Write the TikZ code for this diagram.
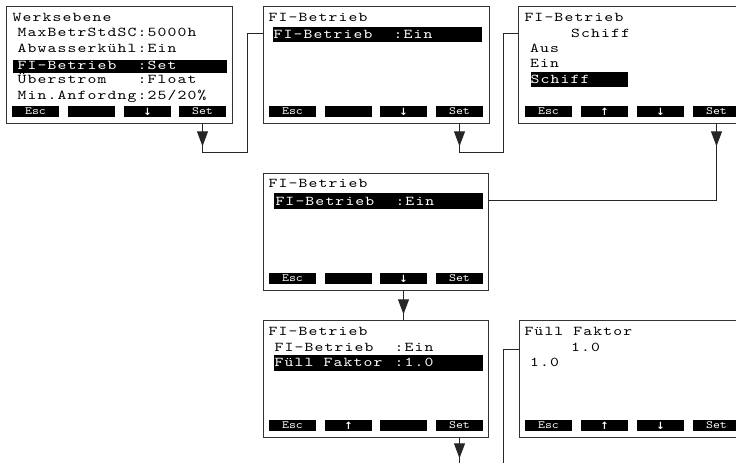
\documentclass[tikz,border=0pt]{standalone}
\usepackage{fontspec}
\usetikzlibrary{arrows.meta,decorations.markings,calc}
\newfontfamily\symfam{DejaVu Sans}
\newfontfamily\lcdfam{lmmono10-regular}[Extension=.otf, FakeStretch=1.25, LetterSpace=8.45]
\newfontfamily\btnfam{lmmono10-regular}[Extension=.otf, FakeStretch=1.2]
\newcommand\lcdtxt{\lcdfam\fontsize{13.5pt}{15pt}\selectfont}
\newcommand\btntxt{\btnfam\fontsize{11pt}{12pt}\selectfont}
\newcommand\symtxt{\symfam\bfseries\fontsize{10pt}{10pt}\selectfont}
\tikzset{
  screen/.style={draw=black!80, line width=1.3pt, anchor=north west, minimum width=226pt, minimum height=117pt, inner sep=0pt},
  btn/.style={fill=black, text=white, minimum width=47pt, minimum height=11pt, inner sep=0pt, font=\btntxt},
  arrbtn/.style={btn, font=\symtxt},
  txt/.style={anchor=base west, inner sep=0pt, font=\lcdtxt},
  inv/.style={txt, text=white},
  hl/.style={fill=black},
  conn/.style={draw=black!85, line width=1pt},
  flowarrow/.style={postaction={decorate}, decoration={markings, mark=at position #1 with {\arrow{Triangle[length=15pt,width=11pt]}}}}
}
\begin{document}
\begin{tikzpicture}[x=1pt,y=-1pt]
\useasboundingbox (0,0) rectangle (736,463);
\clip (0,0) rectangle (736,463);

% ---------- Screen 1 ----------
\node[screen] (s1) at (6,6) {};
\fill[hl] (12.5,60) rectangle (227,73);
\node[txt] (s1t0) at (12.5,21) {Werksebene};
\node[txt] (s1t1) at (17.5,36.7) {MaxBetrStdSC};
\node[txt] (s1v1) at (137.5,36.7) {:5000h};
\node[txt] (s1t2) at (17.5,52.5) {Abwasserkühl};
\node[txt] (s1v2) at (137.5,52.5) {:Ein};
\node[inv] (s1t3) at (17.5,69) {FI-Betrieb};
\node[inv] (s1v3) at (137.5,69) {:Set};
\node[txt] (s1t4) at (17.5,83.8) {Überstrom};
\node[txt] (s1v4) at (137.5,83.8) {:Float};
\node[txt] (s1t5) at (17.5,99.5) {Min.Anfordng};
\node[txt] (s1v5) at (137.5,99.5) {:25/20\%};
\node[btn] (s1esc) at (35.5,111.5) {Esc};
\node[btn] (s1b2) at (91.5,111.5) {};
\node[arrbtn] (s1down) at (147.5,111.5) {↓};
\node[btn] (s1set) at (202.5,111.5) {Set};

% ---------- Screen 2 ----------
\node[screen] (s2) at (263,6) {};
\fill[hl] (273,27) rectangle (482,42);
\node[txt] (s2t0) at (268.5,21) {FI-Betrieb};
\node[inv] (s2t1) at (273.5,38) {FI-Betrieb};
\node[inv] (s2v1) at (393.5,38) {:Ein};
\node[btn] (s2esc) at (292.5,111.5) {Esc};
\node[btn] (s2b2) at (348.5,111.5) {};
\node[arrbtn] (s2down) at (403.5,111.5) {↓};
\node[btn] (s2set) at (459.5,111.5) {Set};

% ---------- Screen 3 ----------
\node[screen, minimum width=227pt] (s3) at (518,6) {};
\fill[hl] (530.5,72) rectangle (628,87);
\node[txt] (s3t0) at (524.3,21) {FI-Betrieb};
\node[txt] (s3t1) at (571,37.5) {Schiff};
\node[txt] (s3t2) at (530,52.7) {Aus};
\node[txt] (s3t3) at (530,67.7) {Ein};
\node[inv] (s3t4) at (530.5,83.5) {Schiff};
\node[btn] (s3esc) at (548.5,111.5) {Esc};
\node[arrbtn] (s3up) at (604.5,111.5) {↑};
\node[arrbtn] (s3down) at (660.5,111.5) {↓};
\node[btn] (s3set) at (716.5,111.5) {Set};

% ---------- Screen 4 ----------
\node[screen, minimum width=225pt] (s4) at (263,173) {};
\fill[hl] (274,193) rectangle (483,209);
\node[txt] (s4t0) at (268.5,187) {FI-Betrieb};
\node[inv] (s4t1) at (275.3,205) {FI-Betrieb};
\node[inv] (s4v1) at (395.3,205) {:Ein};
\node[btn] (s4esc) at (292.5,278.5) {Esc};
\node[btn] (s4b2) at (348.5,278.5) {};
\node[arrbtn] (s4down) at (403.5,278.5) {↓};
\node[btn] (s4set) at (459.5,278.5) {Set};

% ---------- Screen 5 ----------
\node[screen, minimum width=225pt] (s5) at (263,320) {};
\fill[hl] (274,355) rectangle (483,371);
\node[txt] (s5t0) at (268.5,335) {FI-Betrieb};
\node[txt] (s5t1) at (274.5,351.5) {FI-Betrieb};
\node[txt] (s5v1) at (394.5,351.5) {:Ein};
\node[inv] (s5t2) at (274.5,366.5) {Füll Faktor};
\node[inv] (s5v2) at (394.5,366.5) {:1.0};
\node[btn] (s5esc) at (292.5,425.5) {Esc};
\node[arrbtn] (s5up) at (348.5,425.5) {↑};
\node[btn] (s5b3) at (403.5,425.5) {};
\node[btn] (s5set) at (459.5,425.5) {Set};

% ---------- Screen 6 ----------
\node[screen] (s6) at (519,320) {};
\node[txt] (s6t0) at (524.3,335) {Füll Faktor};
\node[txt] (s6t1) at (571,351.5) {1.0};
\node[txt] (s6t2) at (530,366.5) {1.0};
\node[btn] (s6esc) at (548.5,425.5) {Esc};
\node[arrbtn] (s6up) at (604.5,425.5) {↑};
\node[arrbtn] (s6down) at (660.5,425.5) {↓};
\node[btn] (s6set) at (716.5,425.5) {Set};

% ---------- Connectors ----------
\coordinate (j1) at (247,152);
\coordinate (j2) at (503.5,152);
\coordinate (e5) at (459.5,470);
\coordinate (e6) at (503,470);

\draw[conn, flowarrow=22pt] (s1set |- s1.south) |- (j1) |- ([yshift=-27pt]s2.north west);
\draw[conn, flowarrow=22pt] (s2set |- s2.south) |- (j2) |- ([yshift=-27pt]s3.north west);
\draw[conn, flowarrow=22pt] (s3set |- s3.south) |- ([yshift=-27pt]s4.north east);
\draw[conn, flowarrow=23pt] (s4down |- s4.south) -- (s4down |- s5.north);
\draw[conn, flowarrow=20pt] (s5set |- s5.south) -- (e5);
\draw[conn] ([yshift=-29pt]s6.north west) -| (e6);
\end{tikzpicture}
\end{document}
